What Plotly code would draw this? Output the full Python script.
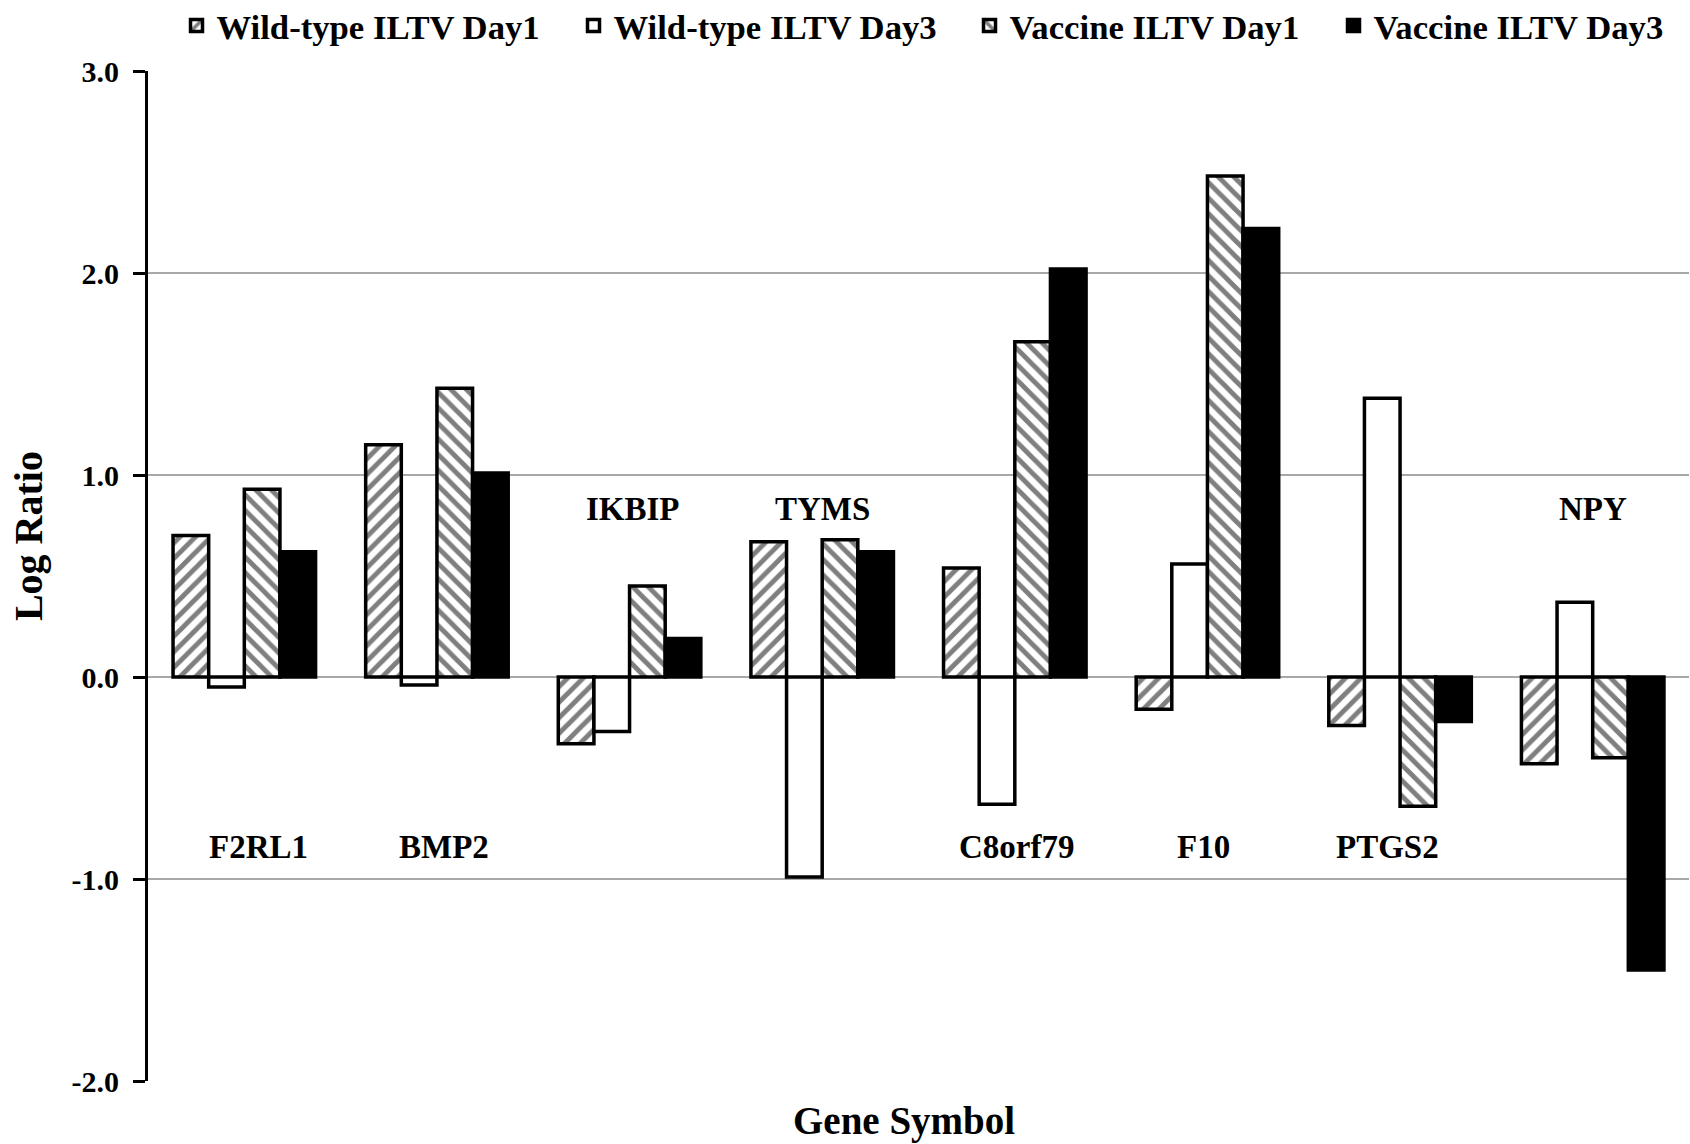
import plotly.graph_objects as go

genes = ["F2RL1", "BMP2", "IKBIP", "TYMS", "C8orf79", "F10", "PTGS2", "NPY"]
wt_day1 = [0.70, 1.15, -0.33, 0.67, 0.54, -0.16, -0.24, -0.43]
wt_day3 = [-0.05, -0.04, -0.27, -0.99, -0.63, 0.56, 1.38, 0.37]
vac_day1 = [0.93, 1.43, 0.45, 0.68, 1.66, 2.48, -0.64, -0.40]
vac_day3 = [0.62, 1.01, 0.19, 0.62, 2.02, 2.22, -0.22, -1.45]
series_names = ["Wild-type ILTV Day1", "Wild-type ILTV Day3", "Vaccine ILTV Day1", "Vaccine ILTV Day3"]
label_y = [-0.84, -0.84, 0.83, 0.83, -0.84, -0.84, -0.84, 0.83]
tick_vals = [-2, -1, 0, 1, 2, 3]
tick_text = ["-2.0", "-1.0", "0.0", "1.0", "2.0", "3.0"]

FONT = "Liberation Serif"
x_idx = list(range(len(genes)))

styles = [
    dict(color="white", pattern=dict(shape="/", fgcolor="black", bgcolor="white", size=11, solidity=0.45)),
    dict(color="white"),
    dict(color="white", pattern=dict(shape="\\", fgcolor="black", bgcolor="white", size=11, solidity=0.45)),
    dict(color="black"),
]
legend_widths = [352, 351, 319, 320]

fig = go.Figure()
for name, vals, st, lw in zip(series_names, [wt_day1, wt_day3, vac_day1, vac_day3], styles, legend_widths):
    marker = dict(line=dict(color="black", width=3.5), **st)
    fig.add_trace(go.Bar(x=x_idx, y=vals, name=name, marker=marker, legendwidth=lw))

shifts = [14, 7, 3, 0, 2, -4, -13, 0]
for i, (g, ly) in enumerate(zip(genes, label_y)):
    fig.add_annotation(x=i, y=ly, text=g, showarrow=False, xshift=shifts[i],
                       font=dict(family=FONT, size=33, color="black", weight="bold"))

fig.add_annotation(x=0.4905, y=0.0, xref="paper", yref="paper", yshift=-40, text="Gene Symbol",
                   showarrow=False, yanchor="middle",
                   font=dict(family=FONT, size=39, color="black", weight="bold"))
fig.add_annotation(x=0, y=0.5395, xref="paper", yref="paper", xshift=-120, text="Log Ratio",
                   showarrow=False, textangle=-90, xanchor="center",
                   font=dict(family=FONT, size=40, color="black", weight="bold"))

fig.update_layout(
    width=1690, height=1144,
    margin=dict(l=148, r=1, t=71, b=63, autoexpand=False),
    paper_bgcolor="white", plot_bgcolor="white",
    barmode="group", bargap=0.26, bargroupgap=0,
    showlegend=True,
    legend=dict(orientation="h", x=0.0185, y=1.0446, xanchor="left", yanchor="middle",
                font=dict(family=FONT, size=34.7, color="black", weight="bold"),
                itemwidth=30, traceorder="normal", bgcolor="rgba(0,0,0,0)"),
    font=dict(family=FONT, color="black"),
)
fig.update_xaxes(range=[-0.5, 7.5], showticklabels=False, ticks="", showgrid=False,
                 zeroline=False, showline=False)
fig.update_yaxes(range=[-2, 3], tickvals=tick_vals, ticktext=tick_text,
                 showgrid=True, gridcolor="#a8a8a8", gridwidth=1.5,
                 zeroline=True, zerolinecolor="#a8a8a8", zerolinewidth=1.5,
                 showline=True, linecolor="black", linewidth=3,
                 ticks="outside", ticklen=12, tickwidth=3, tickcolor="black",
                 ticklabelstandoff=8,
                 tickfont=dict(family=FONT, size=30, color="black", weight="bold"))

fig.write_html("out.html", config={"displayModeBar": False},
               post_script="document.body.style.margin='0';document.body.style.overflow='hidden';")
